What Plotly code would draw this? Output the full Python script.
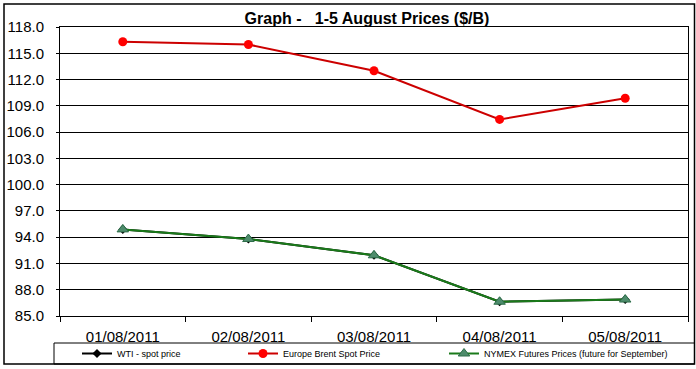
import plotly.graph_objects as go

dates = ["01/08/2011", "02/08/2011", "03/08/2011", "04/08/2011", "05/08/2011"]
wti = [94.89, 93.79, 91.93, 86.63, 86.88]
brent = [116.32, 116.0, 113.0, 107.45, 109.86]
nymex = [94.89, 93.79, 91.93, 86.63, 86.88]

W, H = 696, 369
L, R, T, B = 60, 688, 27, 316

def px(x):
    return (x - L) / (R - L)

def py(y):
    return (B - y) / (B - T)

fig = go.Figure()
fig.add_trace(go.Scatter(x=dates, y=wti, name="WTI - spot price", mode="lines+markers",
                         line=dict(color="#000000", width=2),
                         marker=dict(symbol="diamond", size=7, color="#000000"),
                         legend="legend"))
fig.add_trace(go.Scatter(x=dates, y=brent, name="Europe Brent Spot Price", mode="lines+markers",
                         line=dict(color="#CC0000", width=2),
                         marker=dict(symbol="circle", size=9, color="#FF0000"),
                         legend="legend2"))
fig.add_trace(go.Scatter(x=dates, y=nymex, name="NYMEX Futures Prices (future for September)",
                         mode="lines+markers",
                         line=dict(color="#1A7A1A", width=2),
                         marker=dict(symbol="triangle-up", size=10, color="#4E8C6C",
                                     line=dict(color="#2E6E4A", width=1)),
                         legend="legend3"))

legfont = dict(family="Arial, Liberation Sans", size=9, color="#000000")
ly = py(353.5)
common = dict(orientation="h", font=legfont, bgcolor="rgba(0,0,0,0)", borderwidth=0,
              yanchor="middle", y=ly, xanchor="left", itemwidth=30)

fig.update_layout(
    width=W, height=H,
    margin=dict(l=L, r=W - R, t=T, b=H - B, autoexpand=False),
    paper_bgcolor="#FFFFFF", plot_bgcolor="#FFFFFF",
    font=dict(family="Arial, Liberation Sans", color="#000000"),
    title=dict(text="<b>Graph -   1-5 August Prices ($/B)</b>", x=px(367), xref="paper",
               xanchor="center", y=1 - 18 / H, yanchor="middle",
               font=dict(size=16, family="Arial, Liberation Sans", color="#000000")),
    showlegend=True,
    legend=dict(x=px(77), **common),
    legend2=dict(x=px(243), **common),
    legend3=dict(x=px(444), **common),
    xaxis=dict(type="category", tickson="boundaries", ticks="outside", ticklen=5,
               tickcolor="#000000", showline=True, linecolor="#000000", linewidth=1,
               mirror=True, showgrid=False, automargin=False, ticklabelstandoff=7,
               tickfont=dict(size=15, family="Arial, Liberation Sans", color="#000000"),
               range=[-0.5, 4.5]),
    yaxis=dict(range=[85, 118], dtick=3, tick0=85, tickformat=".1f", ticks="outside",
               ticklen=3, tickcolor="#000000", showline=True, linecolor="#000000",
               linewidth=1, mirror=True, showgrid=True, gridcolor="#000000", gridwidth=1,
               zeroline=False, automargin=False, ticklabelstandoff=9,
               tickfont=dict(size=15, family="Arial, Liberation Sans", color="#000000")),
    shapes=[
        dict(type="rect", xref="paper", yref="paper", x0=px(4), x1=px(694.5),
             y0=py(364), y1=py(4), line=dict(color="#000000", width=1.5),
             fillcolor="rgba(0,0,0,0)", layer="below"),
        dict(type="rect", xref="paper", yref="paper", x0=px(54), x1=px(694.5),
             y0=py(364), y1=py(343), line=dict(color="#000000", width=1),
             fillcolor="rgba(0,0,0,0)", layer="below"),
    ],
)

fig.write_html("out.html", config={"displayModeBar": False},
               post_script="document.body.style.margin='0px';")
